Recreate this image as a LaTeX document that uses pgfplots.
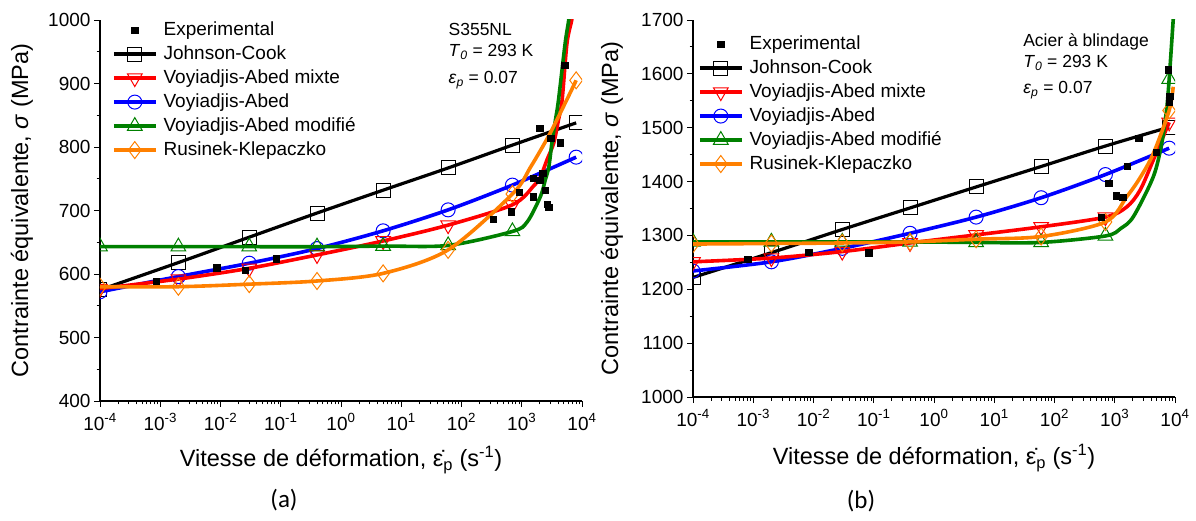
\documentclass[border=0pt]{standalone}
\usepackage{pgfplots}
\pgfplotsset{compat=1.18}
\usepackage{fontspec}
\setmainfont{Liberation Sans}
\newfontfamily\calibri{Carlito}

\definecolor{cOrange}{RGB}{255,128,0}
\definecolor{cGreen}{RGB}{0,128,0}
\definecolor{cRed}{RGB}{255,0,0}
\definecolor{cBlue}{RGB}{0,0,255}

\pgfplotsset{
  scale only axis, xmin=1e-4, xmax=1e4,
  axis x line=bottom, axis y line=left,
  axis line style={-, line width=1.1bp},
  tick align=outside, major tick length=6bp, minor tick length=3.5bp,
  tick style={line width=0.9bp, black},
  xtick={1e-4,1e-3,1e-2,1e-1,1,10,100,1000,10000},
  xticklabels={10\textsuperscript{-4},10\textsuperscript{-3},10\textsuperscript{-2},10\textsuperscript{-1},10\textsuperscript{0},10\textsuperscript{1},10\textsuperscript{2},10\textsuperscript{3},10\textsuperscript{4}},
  minor xtick={2e-4,3e-4,4e-4,5e-4,6e-4,7e-4,8e-4,9e-4,2e-3,3e-3,4e-3,5e-3,6e-3,7e-3,8e-3,9e-3,2e-2,3e-2,4e-2,5e-2,6e-2,7e-2,8e-2,9e-2,0.2,0.3,0.4,0.5,0.6,0.7,0.8,0.9,2,3,4,5,6,7,8,9,20,30,40,50,60,70,80,90,200,300,400,500,600,700,800,900,2000,3000,4000,5000,6000,7000,8000,9000},
  minor y tick num=1,
  tick label style={font=\fontsize{19bp}{22bp}\selectfont},
  xticklabel style={yshift=-3bp},
  label style={font=\fontsize{23.5bp}{28bp}\selectfont},
  clip marker paths=true,
  legend cell align=left,
  legend image code/.code={\draw[mark repeat=2,mark phase=2,#1] plot coordinates {(0bp,0bp) (21bp,0bp) (42bp,0bp)};},
  legend style={draw=none, fill=none, inner sep=0pt, outer sep=0pt, anchor=north west,
    font=\fontsize{19bp}{22bp}\selectfont, row sep=0pt, column sep=3bp,
    nodes={inner sep=3bp, text height=14bp, text depth=4bp}},
  xlabel={Vitesse de déformation, \.{ε}\textsubscript{p} (s\textsuperscript{-1})},
  ylabel={Contrainte équivalente, \textit{σ} (MPa)},
}
\pgfplotsset{
  expst/.style={only marks, mark=square*, mark size=3.2bp, black},
  jcst/.style={draw=black, color=black, line width=3.2bp, mark=square, mark size=7bp, mark options={fill=white, line width=1bp, solid}},
  redst/.style={cRed, line width=3.6bp, mark=triangle, mark size=8.5bp, mark options={fill=white, line width=1bp, solid, rotate=180}},
  bluest/.style={cBlue, line width=3.6bp, mark=o, mark size=7bp, mark options={fill=white, line width=1bp, solid}},
  greenst/.style={cGreen, line width=3.6bp, mark=triangle, mark size=8.5bp, mark options={fill=white, line width=1bp, solid}},
  orangest/.style={cOrange, line width=3.6bp, mark=diamond, mark size=8.5bp, mark options={fill=white, line width=1bp, solid}},
  linest/.style={smooth, tension=0.5, no marks, forget plot},
  markst/.style={only marks, forget plot},
}

\begin{document}
\begin{tikzpicture}
\path[use as bounding box] (0,0) rectangle (1196bp,521bp);

% ---------------- (a) ----------------
\begin{semilogxaxis}[
  at={(100bp,120bp)}, anchor=south west, width=482bp, height=381bp,
  ymin=400, ymax=1000, ytick={400,500,600,700,800,900,1000},
  yticklabels={400,500,600,700,800,900,1000},
  ylabel style={at={(axis description cs:-0.162,0.5)}, anchor=center},
  xlabel style={at={(axis description cs:0.5,-0.155)}, anchor=center},
  legend style={at={(axis description cs:0.0249,1.005)}},
]
\addlegendimage{expst}\addlegendentry{Experimental}
\addlegendimage{jcst}\addlegendentry{Johnson-Cook}
\addlegendimage{redst}\addlegendentry{Voyiadjis-Abed mixte}
\addlegendimage{bluest}\addlegendentry{Voyiadjis-Abed}
\addlegendimage{greenst}\addlegendentry{Voyiadjis-Abed modifié}
\addlegendimage{orangest}\addlegendentry{Rusinek-Klepaczko}

% Johnson-Cook
\addplot[jcst, linest] coordinates {(1e-4,575)(2e-3,618)(3e-2,658)(0.4,696)(5,732)(60,767)(700,803)(8000,838)};
\addplot[jcst, markst] coordinates {(1e-4,575)(2e-3,618)(3e-2,658)(0.4,696)(5,732)(60,767)(700,803)(8000,838)};
% Voyiadjis-Abed
\addplot[bluest, linest] coordinates {(1e-4,572)(2e-3,596)(3e-2,617)(0.4,640)(5,668)(60,701)(700,740)(8000,784)};
\addplot[bluest, markst] coordinates {(1e-4,572)(2e-3,596)(3e-2,617)(0.4,640)(5,668)(60,701)(700,740)(8000,784)};
% Voyiadjis-Abed mixte
\addplot[redst, linest] coordinates {(1e-4,577)(2e-3,592)(3e-2,609)(0.4,630)(5,652)(60,677)(700,709)(1585,739)(2042,753)(2630,780)(3388,806)(4074,843)(4677,874)(5623,963)(6761,1000)(7000,1015)};
\addplot[redst, markst] coordinates {(1e-4,577)(2e-3,592)(3e-2,609)(0.4,630)(5,652)(60,677)(700,709)};
% Voyiadjis-Abed modifie
\addplot[greenst, linest] coordinates {(1e-4,643)(2e-3,643)(3e-2,643)(0.4,643)(5,644)(60,645)(700,667)(1230,682)(2042,722)(2455,748)(2818,769)(3162,806)(3631,843)(4074,874)(5248,963)(6026,1000)(6310,1020)};
\addplot[greenst, markst] coordinates {(1e-4,643)(2e-3,643)(3e-2,643)(0.4,643)(5,644)(60,645)(700,667)};
% Rusinek-Klepaczko
\addplot[orangest, linest] coordinates {(1e-4,580)(2e-3,580)(3e-2,584)(0.4,589)(5,601)(60,638)(700,726)(1413,769)(2818,818)(5248,869)(8000,905)};
\addplot[orangest, markst] coordinates {(1e-4,580)(2e-3,580)(3e-2,584)(0.4,589)(5,601)(60,638)(700,726)(8000,905)};
% Experimental
\addplot[expst, forget plot] coordinates {(8.5e-4,589)(8.7e-3,610)(2.57e-2,606)(8.5e-2,624)(339,686)(661,698)(912,729)(1549,722)(1549,751)(1995,748)(2239,759)(2455,732)(2630,710)(2818,705)(1995,830)(3020,814)(4365,807)(5129,929)};

\node[anchor=west, font=\fontsize{17.5bp}{20bp}\selectfont] at (rel axis cs:0.716,0.974) {S355NL};
\node[anchor=west, font=\fontsize{17.5bp}{20bp}\selectfont] at (rel axis cs:0.716,0.916) {\textit{T}\textsubscript{\textit{0}} = 293 K};
\node[anchor=west, font=\fontsize{17.5bp}{20bp}\selectfont] at (rel axis cs:0.716,0.8425) {\textit{ε}\textsubscript{\textit{p}} = 0.07};
\end{semilogxaxis}

% ---------------- (b) ----------------
\begin{semilogxaxis}[
  at={(693bp,124bp)}, anchor=south west, width=482bp, height=377bp,
  ymin=1000, ymax=1700, ytick={1000,1100,1200,1300,1400,1500,1600,1700},
  yticklabels={1000,1100,1200,1300,1400,1500,1600,1700},
  ylabel style={at={(axis description cs:-0.168,0.5)}, anchor=center},
  xlabel style={at={(axis description cs:0.5,-0.162)}, anchor=center},
  legend style={at={(axis description cs:0.0104,0.968)}},
]
\addlegendimage{expst}\addlegendentry{Experimental}
\addlegendimage{jcst}\addlegendentry{Johnson-Cook}
\addlegendimage{redst}\addlegendentry{Voyiadjis-Abed mixte}
\addlegendimage{bluest}\addlegendentry{Voyiadjis-Abed}
\addlegendimage{greenst}\addlegendentry{Voyiadjis-Abed modifié}
\addlegendimage{orangest}\addlegendentry{Rusinek-Klepaczko}

% Johnson-Cook
\addplot[jcst, linest] coordinates {(1e-4,1222)(2e-3,1268)(3e-2,1311)(0.4,1351)(5,1390)(60,1428)(700,1466)(8000,1501)};
\addplot[jcst, markst] coordinates {(1e-4,1222)(2e-3,1268)(3e-2,1311)(0.4,1351)(5,1390)(60,1428)(700,1466)(8000,1501)};
% Voyiadjis-Abed
\addplot[bluest, linest] coordinates {(1e-4,1234)(2e-3,1251)(3e-2,1276)(0.4,1304)(5,1334)(60,1370)(700,1413)(8000,1462)};
\addplot[bluest, markst] coordinates {(1e-4,1234)(2e-3,1251)(3e-2,1276)(0.4,1304)(5,1334)(60,1370)(700,1413)(8000,1462)};
% Voyiadjis-Abed mixte
\addplot[redst, linest] coordinates {(1e-4,1251)(2e-3,1258)(3e-2,1270)(0.4,1286)(5,1301)(60,1316)(700,1334)(1585,1353)(2630,1384)(4365,1440)(8000,1510)};
\addplot[redst, markst] coordinates {(1e-4,1251)(2e-3,1258)(3e-2,1270)(0.4,1286)(5,1301)(60,1316)(700,1334)(8000,1510)};
% Voyiadjis-Abed modifie
\addplot[greenst, linest] coordinates {(1e-4,1288)(2e-3,1288)(3e-2,1288)(0.4,1288)(5,1287)(60,1287)(700,1299)(1259,1313)(2042,1335)(4365,1409)(6026,1471)(7244,1533)(8000,1590)(9333,1700)(9550,1720)};
\addplot[greenst, markst] coordinates {(1e-4,1288)(2e-3,1288)(3e-2,1288)(0.4,1288)(5,1287)(60,1287)(700,1299)(8000,1590)};
% Rusinek-Klepaczko
\addplot[orangest, linest] coordinates {(1e-4,1284)(2e-3,1285)(3e-2,1286)(0.4,1288)(5,1293)(60,1298)(700,1325)(1585,1372)(2630,1407)(4365,1452)(8000,1532)(9333,1576)};
\addplot[orangest, markst] coordinates {(1e-4,1284)(2e-3,1285)(3e-2,1286)(0.4,1288)(5,1293)(60,1298)(700,1325)(8000,1532)};
% Experimental
\addplot[expst, forget plot] coordinates {(8.1e-4,1256)(8.3e-3,1269)(8.3e-2,1268)(589,1334)(794,1397)(1047,1374)(1349,1371)(1622,1429)(2512,1480)(4898,1455)(7762,1608)(8128,1559)(7943,1548)};

\node[anchor=west, font=\fontsize{17.5bp}{20bp}\selectfont] at (rel axis cs:0.678,0.9416) {Acier à blindage};
\node[anchor=west, font=\fontsize{17.5bp}{20bp}\selectfont] at (rel axis cs:0.678,0.886) {\textit{T}\textsubscript{\textit{0}} = 293 K};
\node[anchor=west, font=\fontsize{17.5bp}{20bp}\selectfont] at (rel axis cs:0.678,0.814) {\textit{ε}\textsubscript{\textit{p}} = 0.07};
\end{semilogxaxis}

\node[font=\calibri\fontsize{25bp}{30bp}\selectfont] at (284bp,21bp) {(a)};
\node[font=\calibri\fontsize{25bp}{30bp}\selectfont] at (861bp,20bp) {(b)};
\end{tikzpicture}
\end{document}
